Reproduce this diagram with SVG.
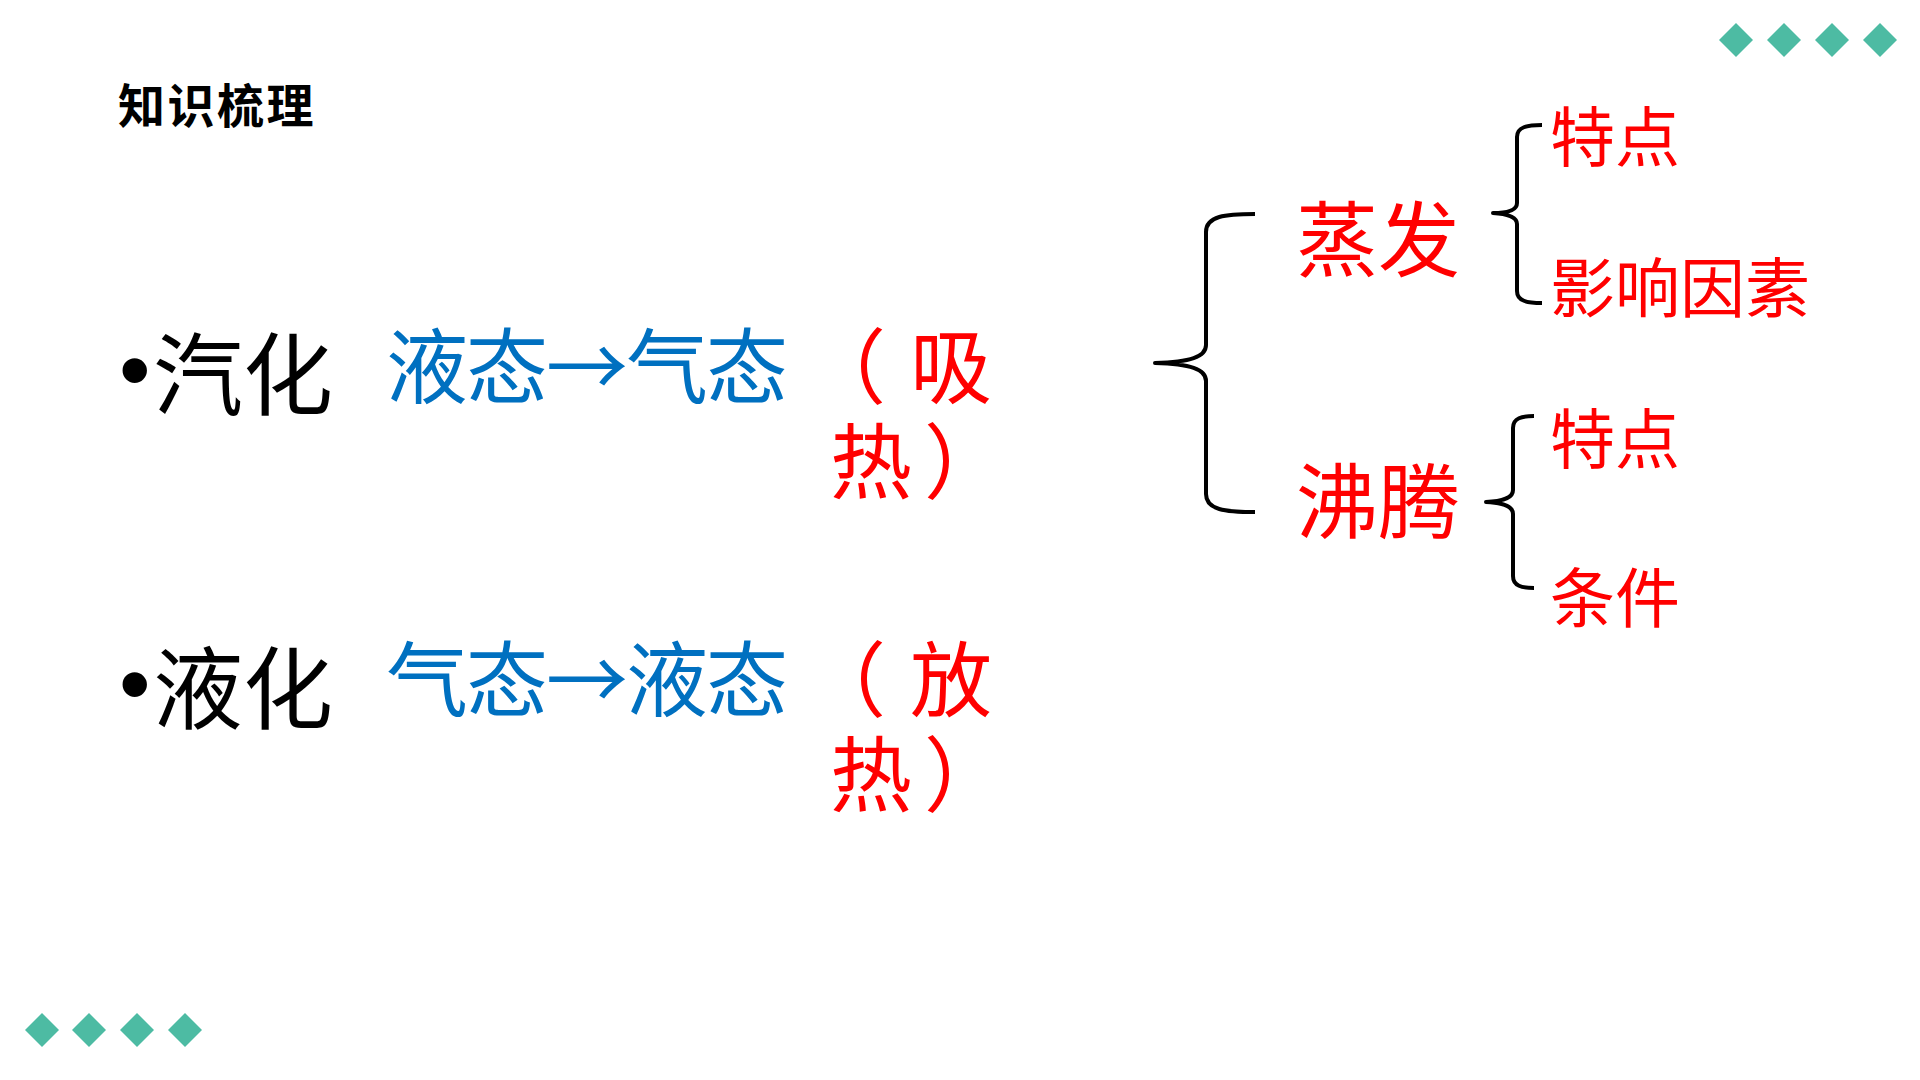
<svg xmlns="http://www.w3.org/2000/svg" width="1920" height="1080" viewBox="0 0 1920 1080">
<style>
  text { font-family: "Noto Sans CJK SC", "Microsoft YaHei", sans-serif; }
  .title { font-size: 47px; font-weight: bold; fill: #000; letter-spacing: 2.5px; }
  .term { font-size: 90px; fill: #000; }
  .bul { font-family: "Liberation Sans", Arial, sans-serif; }
  .blue { font-size: 82px; fill: #0070C0; }
  .red { font-size: 82px; fill: #FF0000; }
  .redsm { font-size: 65px; fill: #FF0000; }
  .brace { fill: none; stroke: #000; stroke-width: 4; stroke-linecap: butt; stroke-linejoin: round; }
  .dia { fill: #4DBBA3; }
</style>
<defs>
  <path id="d" d="M0,-17 L17,0 L0,17 L-17,0 Z"/>
</defs>
<rect width="1920" height="1080" fill="#fff"/>

<g id="decor-top-right">
  <use href="#d" class="dia" x="1736" y="40"/>
  <use href="#d" class="dia" x="1784" y="40"/>
  <use href="#d" class="dia" x="1832" y="40"/>
  <use href="#d" class="dia" x="1880" y="40"/>
</g>
<g id="decor-bottom-left">
  <use href="#d" class="dia" x="42" y="1030"/>
  <use href="#d" class="dia" x="89" y="1030"/>
  <use href="#d" class="dia" x="137" y="1030"/>
  <use href="#d" class="dia" x="185" y="1030"/>
</g>

<g id="title"><text class="title" x="118" y="123">知识梳理</text></g>

<g id="vaporization">
  <text class="term"><tspan class="bul" x="119" y="401">•</tspan><tspan x="153" y="408">汽化</tspan></text>
</g>
<g id="vaporization-change">
  <text class="blue" y="397" x="386 466 546 626 706">液态→气态</text>
</g>
<g id="vaporization-heat">
  <text class="red"><tspan x="804 910" y="397">（吸</tspan><tspan x="830 924" y="492">热）</tspan></text>
</g>

<g id="liquefaction">
  <text class="term"><tspan class="bul" x="119" y="715">•</tspan><tspan x="153" y="722">液化</tspan></text>
</g>
<g id="liquefaction-change">
  <text class="blue" y="710" x="386 466 546 626 706">气态→液态</text>
</g>
<g id="liquefaction-heat">
  <text class="red"><tspan x="804 910" y="710">（放</tspan><tspan x="830 924" y="805">热）</tspan></text>
</g>

<g id="evaporation"><text class="red" x="1296" y="270">蒸发</text></g>
<g id="boiling"><text class="red" x="1296" y="532">沸腾</text></g>
<g id="evap-feature"><text class="redsm" x="1550" y="161">特点</text></g>
<g id="evap-factors"><text class="redsm" x="1550" y="312">影响因素</text></g>
<g id="boil-feature"><text class="redsm" x="1550" y="463">特点</text></g>
<g id="boil-condition"><text class="redsm" x="1550" y="622">条件</text></g>

<g id="connectors">
  <path class="brace" d="M1255,214 C1225,214 1206,216 1206,232 L1206,345 C1206,357 1190,362 1155,363 C1190,364 1206,369 1206,381 L1206,494 C1206,510 1225,512 1255,512"/>
  <path class="brace" d="M1542,125 C1527,125 1517,127 1517,137 L1517,203 C1517,209 1510,213 1493,213 C1510,214 1517,218 1517,224 L1517,291 C1517,301 1527,303 1542,303"/>
  <path class="brace" d="M1534,416 C1522,416 1513,418 1513,428 L1513,490 C1513,497 1506,501 1486,502 C1506,503 1513,507 1513,514 L1513,576 C1513,586 1522,588 1534,588"/>
</g>
</svg>
